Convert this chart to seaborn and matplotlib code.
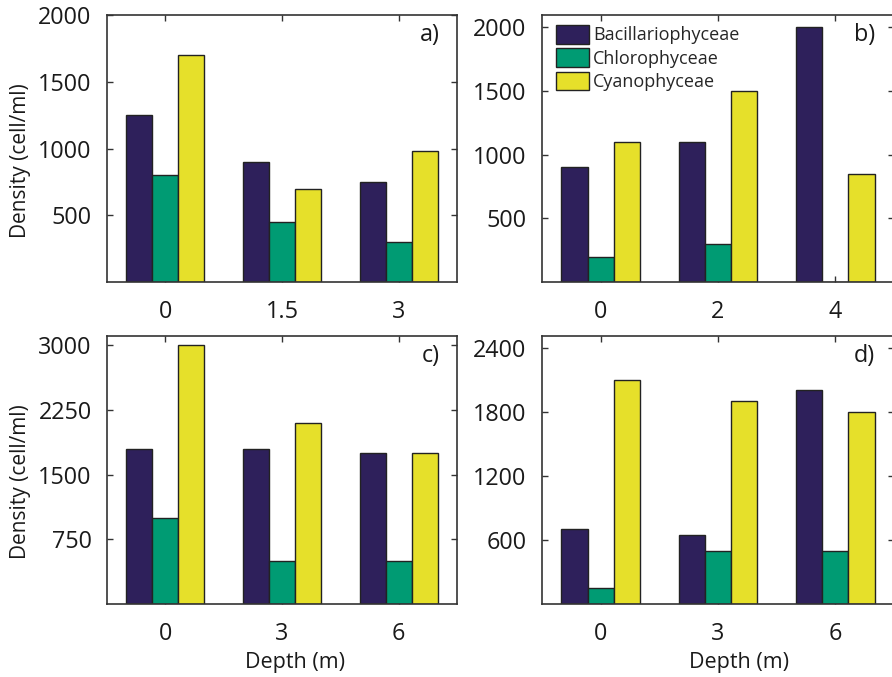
import matplotlib
matplotlib.use("Agg")
import matplotlib.pyplot as plt
import seaborn as sns
import pandas as pd

# Phytoplankton class densities (cell/ml) by sampling depth, four stations
classes = ["Bacillariophyceae", "Chlorophyceae", "Cyanophyceae"]
colors = ["#2e205b", "#009b73", "#e6e02a"]

depths_a = ["0", "1.5", "3"]
bac_a = [1250, 900, 750]
chl_a = [800, 450, 300]
cya_a = [1700, 700, 980]

depths_b = ["0", "2", "4"]
bac_b = [900, 1100, 2000]
chl_b = [200, 300, 0]
cya_b = [1100, 1500, 850]

depths_c = ["0", "3", "6"]
bac_c = [1800, 1800, 1750]
chl_c = [1000, 500, 500]
cya_c = [3000, 2100, 1750]

depths_d = ["0", "3", "6"]
bac_d = [700, 650, 2000]
chl_d = [150, 500, 500]
cya_d = [2100, 1900, 1800]

panel_labels = ["a)", "b)", "c)", "d)"]
yticks_list = [[500, 1000, 1500, 2000], [500, 1000, 1500, 2000],
               [750, 1500, 2250, 3000], [600, 1200, 1800, 2400]]
ylims = [(0, 2000), (0, 2095), (0, 3105), (0, 2510)]


def long_frame(depths, bac, chl, cya):
    rows = []
    for cls, vals in zip(classes, [bac, chl, cya]):
        for d, v in zip(depths, vals):
            rows.append({"Depth": d, "Class": cls, "Density": v})
    return pd.DataFrame(rows)


frames = [long_frame(depths_a, bac_a, chl_a, cya_a),
          long_frame(depths_b, bac_b, chl_b, cya_b),
          long_frame(depths_c, bac_c, chl_c, cya_c),
          long_frame(depths_d, bac_d, chl_d, cya_d)]
depth_orders = [depths_a, depths_b, depths_c, depths_d]

sns.set_theme(style="white")
plt.rcParams["font.family"] = ["Open Sans", "DejaVu Sans"]

W, H = 892, 677
fig = plt.figure(figsize=(W / 100, H / 100), dpi=100)

# axes boxes in pixels: left, top, right, bottom
boxes = [(107, 15, 457, 282), (542, 15, 894, 282),
         (107, 336, 457, 604), (542, 336, 894, 604)]

tick_fs = 16.8
spine_col = "#333333"

for i, (df, order) in enumerate(zip(frames, depth_orders)):
    l, t, r, b = boxes[i]
    ax = fig.add_axes([l / W, 1 - b / H, (r - l) / W, (b - t) / H])
    sns.barplot(data=df, x="Depth", y="Density", hue="Class", order=order,
                hue_order=classes, palette=colors, width=0.67,
                edgecolor="#222222", linewidth=1.0, errorbar=None,
                saturation=1, legend=(i == 1), ax=ax)
    ax.set_xlim(-0.5, 2.5)
    ax.set_ylim(*ylims[i])
    ax.set_yticks(yticks_list[i])
    ax.set_yticklabels([str(v) for v in yticks_list[i]])
    for s in ax.spines.values():
        s.set_visible(True)
        s.set_color(spine_col)
        s.set_linewidth(1.2)
    ax.tick_params(axis="both", direction="in", length=4, width=1,
                   color=spine_col, labelsize=tick_fs, labelcolor="#1a1a1a",
                   top=True, right=True, bottom=True, left=True)
    ax.tick_params(axis="y", pad=11)
    ax.tick_params(axis="x", pad=13)

    if i in (0, 2):
        ax.set_ylabel("Density (cell/ml)", fontsize=15, color="#1a1a1a")
        ax.yaxis.set_label_coords((31 - l) / (r - l), 0.455)
    else:
        ax.set_ylabel("")
    if i in (2, 3):
        ax.set_xlabel("Depth (m)", fontsize=15.5, color="#1a1a1a")
        cx = 295 if i == 2 else 738
        ax.xaxis.set_label_coords((cx - l) / 350, -0.18)
    else:
        ax.set_xlabel("")

    ax.text(1 - 17 / (r - l) - (0.006 if i % 2 else 0), 1 - 8 / (b - t),
            panel_labels[i], transform=ax.transAxes, ha="right", va="top",
            fontsize=tick_fs, color="#1a1a1a")

    if i == 1:
        handles, labels = ax.get_legend_handles_labels()
        ax.legend(handles, labels, loc="upper left",
                  bbox_to_anchor=(14 / (r - l), 1 - 10 / (b - t)),
                  borderaxespad=0, borderpad=0, frameon=False,
                  fontsize=13, handlelength=1.85, handleheight=1.2,
                  labelspacing=0.22, handletextpad=0.2)

fig.savefig("out.png", dpi=100)
